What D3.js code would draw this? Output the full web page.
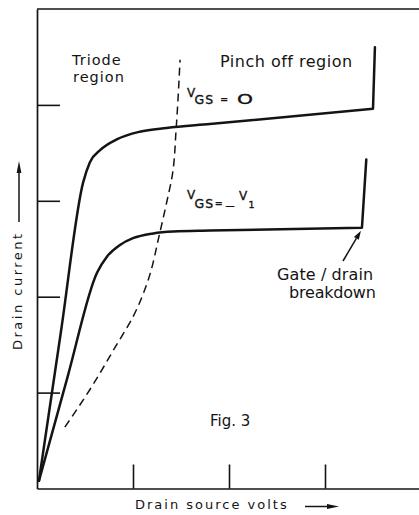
<!DOCTYPE html>
<html>
<head>
<meta charset="utf-8">
<script src="https://cdn.jsdelivr.net/npm/d3@7"></script>
<style>
  html, body { margin: 0; padding: 0; background: #fff; }
  svg { display: block; }
  text { font-family: "DejaVu Sans", sans-serif; fill: #141414; }
  text.sub { stroke: #141414; stroke-width: 0.35; }
</style>
</head>
<body>
<script>
// FET output characteristics: drain current against drain-source voltage (arbitrary units)
const xTicks = [1, 2, 3];
const yTicks = [1, 2, 3, 4];

// V_GS = 0 characteristic (last point is the gate/drain breakdown rise)
const vgsZeroV = [0.02, 0.25, 0.48, 0.55, 0.66, 0.83, 1.07, 1.35, 1.80, 3.50, 3.52];
const vgsZeroI = [0.08, 1.64, 3.19, 3.40, 3.53, 3.64, 3.72, 3.76, 3.80, 3.96, 4.60];

// V_GS = -V1 characteristic
const vgsNegV = [0.02, 0.32, 0.625, 0.73, 0.865, 1.00, 1.21, 1.42, 1.80, 3.385, 3.43];
const vgsNegI = [0.08, 1.17, 2.25, 2.42, 2.54, 2.61, 2.66, 2.68, 2.69, 2.72, 3.43];

// Boundary between triode and pinch-off regions (dashed)
const pinchV = [0.29, 0.55, 0.83, 1.00, 1.15, 1.28, 1.35, 1.41, 1.45, 1.49];
const pinchI = [0.64, 1.03, 1.50, 1.79, 2.15, 2.67, 2.98, 3.27, 3.76, 4.47];

const W = 419, H = 515;
const ink = "#141414";

const svg = d3.select("body").append("svg")
  .attr("width", W).attr("height", H)
  .attr("viewBox", `0 0 ${W} ${H}`);

const x = d3.scaleLinear().domain([0, 4]).range([37, 421]);
const y = d3.scaleLinear().domain([0, 5]).range([488.5, 9]);

// Axes: bare lines with inward ticks, no numbers
const styleAxis = g => {
  g.selectAll("path.domain").attr("stroke", ink).attr("stroke-width", 1.7);
  g.selectAll(".tick line").attr("stroke", ink).attr("stroke-width", 1.6);
  g.selectAll(".tick text").remove();
};

svg.append("g")
  .attr("transform", `translate(${x(0)},0)`)
  .call(d3.axisLeft(y).tickValues(yTicks).tickSizeInner(-23).tickSizeOuter(0).tickFormat(""))
  .call(styleAxis);

svg.append("g")
  .attr("transform", `translate(0,${y(0)})`)
  .call(d3.axisBottom(x).tickValues(xTicks).tickSizeInner(-24).tickSizeOuter(0).tickFormat(""))
  .call(styleAxis);

// top frame line
svg.append("line")
  .attr("x1", x(0)).attr("x2", x(4))
  .attr("y1", y(5)).attr("y2", y(5))
  .attr("stroke", ink).attr("stroke-width", 1.7);

// Characteristic curves: smooth knee, then straight breakdown rise
const smooth = d3.line().x(d => x(d[0])).y(d => y(d[1])).curve(d3.curveMonotoneX);
function characteristic(vs, is) {
  const pts = vs.map((v, i) => [v, is[i]]);
  const body = pts.slice(0, -1);
  const last = pts[pts.length - 1];
  return smooth(body) + `L${x(last[0])},${y(last[1])}`;
}

svg.append("path")
  .attr("d", characteristic(vgsZeroV, vgsZeroI))
  .attr("fill", "none").attr("stroke", ink).attr("stroke-width", 2.5)
  .attr("stroke-linejoin", "round").attr("stroke-linecap", "round");

svg.append("path")
  .attr("d", characteristic(vgsNegV, vgsNegI))
  .attr("fill", "none").attr("stroke", ink).attr("stroke-width", 2.5)
  .attr("stroke-linejoin", "round").attr("stroke-linecap", "round");

const pinchLine = d3.line().x(d => x(d[0])).y(d => y(d[1])).curve(d3.curveMonotoneY);
svg.append("path")
  .attr("d", pinchLine(pinchV.map((v, i) => [v, pinchI[i]])))
  .attr("fill", "none").attr("stroke", ink).attr("stroke-width", 1.5)
  .attr("stroke-dasharray", "8,5");

// Arrow helper: shaft plus filled head at (x2, y2)
function arrow(x1, y1, x2, y2, len, half, width) {
  const a = Math.atan2(y2 - y1, x2 - x1);
  const bx = x2 - len * Math.cos(a), by = y2 - len * Math.sin(a);
  svg.append("line")
    .attr("x1", x1).attr("y1", y1).attr("x2", bx).attr("y2", by)
    .attr("stroke", ink).attr("stroke-width", width);
  const px = -Math.sin(a) * half, py = Math.cos(a) * half;
  svg.append("path")
    .attr("d", `M${x2},${y2}L${bx + px},${by + py}L${bx - px},${by - py}Z`)
    .attr("fill", ink);
}

const label = (tx, ty, str, size, spacing) =>
  svg.append("text").attr("x", tx).attr("y", ty)
    .attr("font-size", size).attr("letter-spacing", spacing || 0).text(str);

// Region labels
label(72, 64.5, "Triode", 14.5, 1);
label(73, 82, "region", 14.5, 1);
label(220, 67, "Pinch off region", 16, 0.5);

// V_GS = 0
label(187, 97, "V", 12).attr("class", "sub");
label(194.5, 103.5, "GS", 12.5, 1).attr("class", "sub");
label(220, 102.5, "=", 10).attr("font-weight", "bold");
svg.append("text").attr("x", 237).attr("y", 103.5).attr("class", "sub")
  .attr("font-size", 13.5).attr("textLength", 16).attr("lengthAdjust", "spacingAndGlyphs")
  .text("O");

// V_GS = -V1
label(187, 199, "V", 12).attr("class", "sub");
label(194.5, 207.5, "GS", 12.5, 1).attr("class", "sub");
label(214.5, 206.5, "=", 10).attr("font-weight", "bold");
svg.append("text").attr("x", 225).attr("y", 210).attr("class", "sub")
  .attr("font-size", 12).attr("textLength", 10).attr("lengthAdjust", "spacingAndGlyphs")
  .text("–");
label(239, 200, "V", 12).attr("class", "sub");
label(248.5, 208, "1", 9.5).attr("class", "sub");

// Breakdown annotation
label(277, 280, "Gate / drain", 16, 0.1);
label(289, 298, "breakdown", 16, -0.2);
const bx = x(vgsNegV[vgsNegV.length - 2]), by = y(vgsNegI[vgsNegI.length - 2]);
arrow(343, 261, bx - 1, by + 3, 9, 2.8, 1.5);

label(210, 426, "Fig. 3", 15, 0);

// Axis titles with direction arrows
label(135, 508.5, "Drain source volts", 13, 2);
arrow(305, 506.5, 339, 506.5, 12, 2.6, 1.5);

svg.append("text")
  .attr("transform", "translate(22,350) rotate(-90)")
  .attr("font-size", 13).attr("letter-spacing", 2.5)
  .text("Drain current");
arrow(19, 222, 19, 161, 12, 2.4, 1.5);
</script>
</body>
</html>
